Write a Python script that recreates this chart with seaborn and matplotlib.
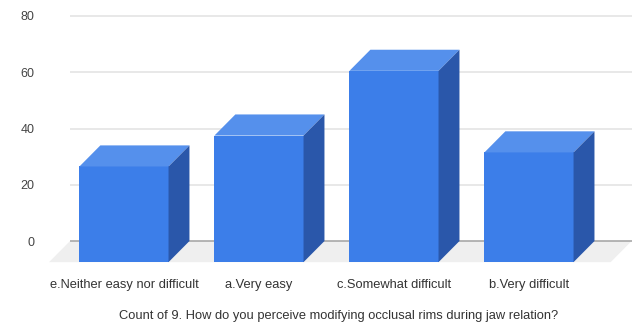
import matplotlib
matplotlib.use("Agg")
import matplotlib.pyplot as plt
from matplotlib.patches import Polygon
import seaborn as sns
import pandas as pd

# Survey responses
categories = ["e.Neither easy nor difficult", "a.Very easy", "c.Somewhat difficult", "b.Very difficult"]
counts = [34, 45, 68, 39]
y_ticks = [0, 20, 40, 60, 80]
x_title = "Count of 9. How do you perceive modifying occlusal rims during jaw relation?"

df = pd.DataFrame({"answer": categories, "count": counts})

sns.set_theme(style="white")
plt.rcParams["font.family"] = ["Liberation Sans", "DejaVu Sans"]

W, H = 637, 327
fig = plt.figure(figsize=(W / 100, H / 100), dpi=100)
ax = fig.add_axes([40 / W, (H - 272) / H, (W - 40) / W, 267 / H])

front = "#3c7ee9"
top_c = "#5590ec"
side_c = "#2a57aa"

# depth of the 3D extrusion (in data units)
dx, dy = 0.155, 7.5

sns.barplot(data=df, x="answer", y="count", color=front, saturation=1,
            width=0.66, ax=ax, zorder=3, linewidth=0)

xmin, xmax = -0.622, 3.8
ax.set_xlim(xmin, xmax)
ax.set_ylim(-11.0, 83.9)

# floor of the 3D plane
back_l, back_r = -0.40, 3.76
floor = Polygon([(back_l - dx, -dy), (back_r - dx, -dy), (back_r, 0), (back_l, 0)],
                closed=True, facecolor="#efefef", edgecolor="none", zorder=0)
ax.add_patch(floor)

# gridlines on the back wall
ax.hlines([t for t in y_ticks if t > 0], back_l, back_r, color="#e4e4e4", lw=1.2, zorder=1)
ax.hlines([0], back_l, back_r, color="#a8a8a8", lw=1.2, zorder=1)

# push front faces forward and add top and side faces
for p in list(ax.patches):
    if p is floor:
        continue
    p.set_y(-dy)
    x0, w, yb, h = p.get_x(), p.get_width(), p.get_y(), p.get_height()
    yt = yb + h
    ax.add_patch(Polygon([(x0, yt), (x0 + w, yt), (x0 + w + dx, yt + dy), (x0 + dx, yt + dy)],
                         closed=True, facecolor=top_c, edgecolor="none", zorder=3))
    ax.add_patch(Polygon([(x0 + w, yb), (x0 + w + dx, yb + dy), (x0 + w + dx, yt + dy), (x0 + w, yt)],
                         closed=True, facecolor=side_c, edgecolor="none", zorder=3))

for s in ax.spines.values():
    s.set_visible(False)

ax.set_yticks(y_ticks)
ax.set_yticklabels([str(t) for t in y_ticks])
ax.tick_params(axis="y", length=0, pad=4, labelsize=9, labelcolor="#444444")
ax.tick_params(axis="x", length=0, pad=5, labelsize=9.3, labelcolor="#333333")
ax.set_xlabel(x_title, fontsize=9.3, color="#333333", labelpad=14)
ax.set_ylabel("")
ax.grid(False)

fig.savefig("out.png", dpi=100)
